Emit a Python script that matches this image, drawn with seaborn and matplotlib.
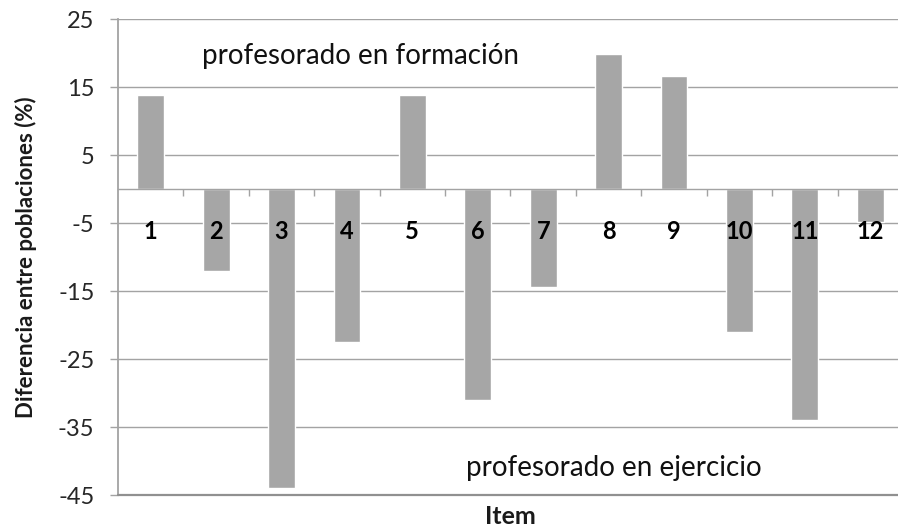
import matplotlib
matplotlib.use("Agg")
import matplotlib.pyplot as plt
import seaborn as sns
import pandas as pd
from matplotlib.ticker import FixedLocator

# Difference between populations per questionnaire item (%)
items = ["1", "2", "3", "4", "5", "6", "7", "8", "9", "10", "11", "12"]
diferencia = [13.8, -12.0, -44.0, -22.5, 13.8, -31.0, -14.4, 19.8, 16.6, -21.1, -34.0, -4.8]
y_ticks = [25, 15, 5, -5, -15, -25, -35, -45]

df = pd.DataFrame({"Item": items, "Diferencia": diferencia})

sns.set_theme(style="white")
plt.rcParams["font.family"] = ["Lato", "DejaVu Sans"]

fig = plt.figure(figsize=(8.98, 5.29), dpi=100)
ax = fig.add_axes([118 / 898, 34 / 529, 785 / 898, 476 / 529])

grid_c = "#a3a3a3"
bar_c = "#a6a6a6"

sns.barplot(data=df, x="Item", y="Diferencia", color=bar_c, width=0.41,
            saturation=1, ax=ax, zorder=2)

ax.set_ylim(-45, 25)
ax.set_xlim(-0.5, len(items) - 0.5)
ax.set_yticks(y_ticks)
ax.set_yticklabels([str(v) for v in y_ticks])

# horizontal gridlines behind bars, category labels above them
ax.yaxis.grid(True, color=grid_c, linewidth=1.0)
ax.set_axisbelow(True)
ax.xaxis.set_zorder(5)

for s in ["top", "right"]:
    ax.spines[s].set_visible(False)
ax.spines["left"].set_color(grid_c)
ax.spines["left"].set_linewidth(1.3)
ax.spines["bottom"].set_position(("data", 0))
ax.spines["bottom"].set_color(grid_c)
ax.spines["bottom"].set_linewidth(1.0)
ax.axhline(-45, color="#909090", linewidth=1.6, zorder=4, clip_on=False)

ax.tick_params(axis="y", which="major", left=True, length=6, width=1,
               color=grid_c, pad=11, labelsize=17, labelcolor="#262626")
ax.tick_params(axis="x", which="major", bottom=True, length=0, pad=22,
               labelsize=17, labelcolor="black")
for lbl in ax.get_xticklabels():
    lbl.set_fontweight("bold")
ax.xaxis.set_minor_locator(FixedLocator([i + 0.5 for i in range(len(items) - 1)]))
ax.tick_params(axis="x", which="minor", bottom=True, length=5, width=1,
               color=grid_c, direction="out")

ax.set_xlabel("Item", fontsize=18, fontweight="bold", color="#1a1a1a")
ax.xaxis.set_label_coords(0.5, -0.022)
ax.set_ylabel("Diferencia entre poblaciones (%)", fontsize=16,
              fontweight="bold", color="#1a1a1a")
ax.yaxis.set_label_coords(-0.103, 0.5)

ax.text(3.2, 19.5, "profesorado en formación", fontsize=20,
        ha="center", va="center", color="#111111")
ax.text(7.08, -41.0, "profesorado en ejercicio", fontsize=20,
        ha="center", va="center", color="#111111")

fig.savefig("out.png", dpi=100)
